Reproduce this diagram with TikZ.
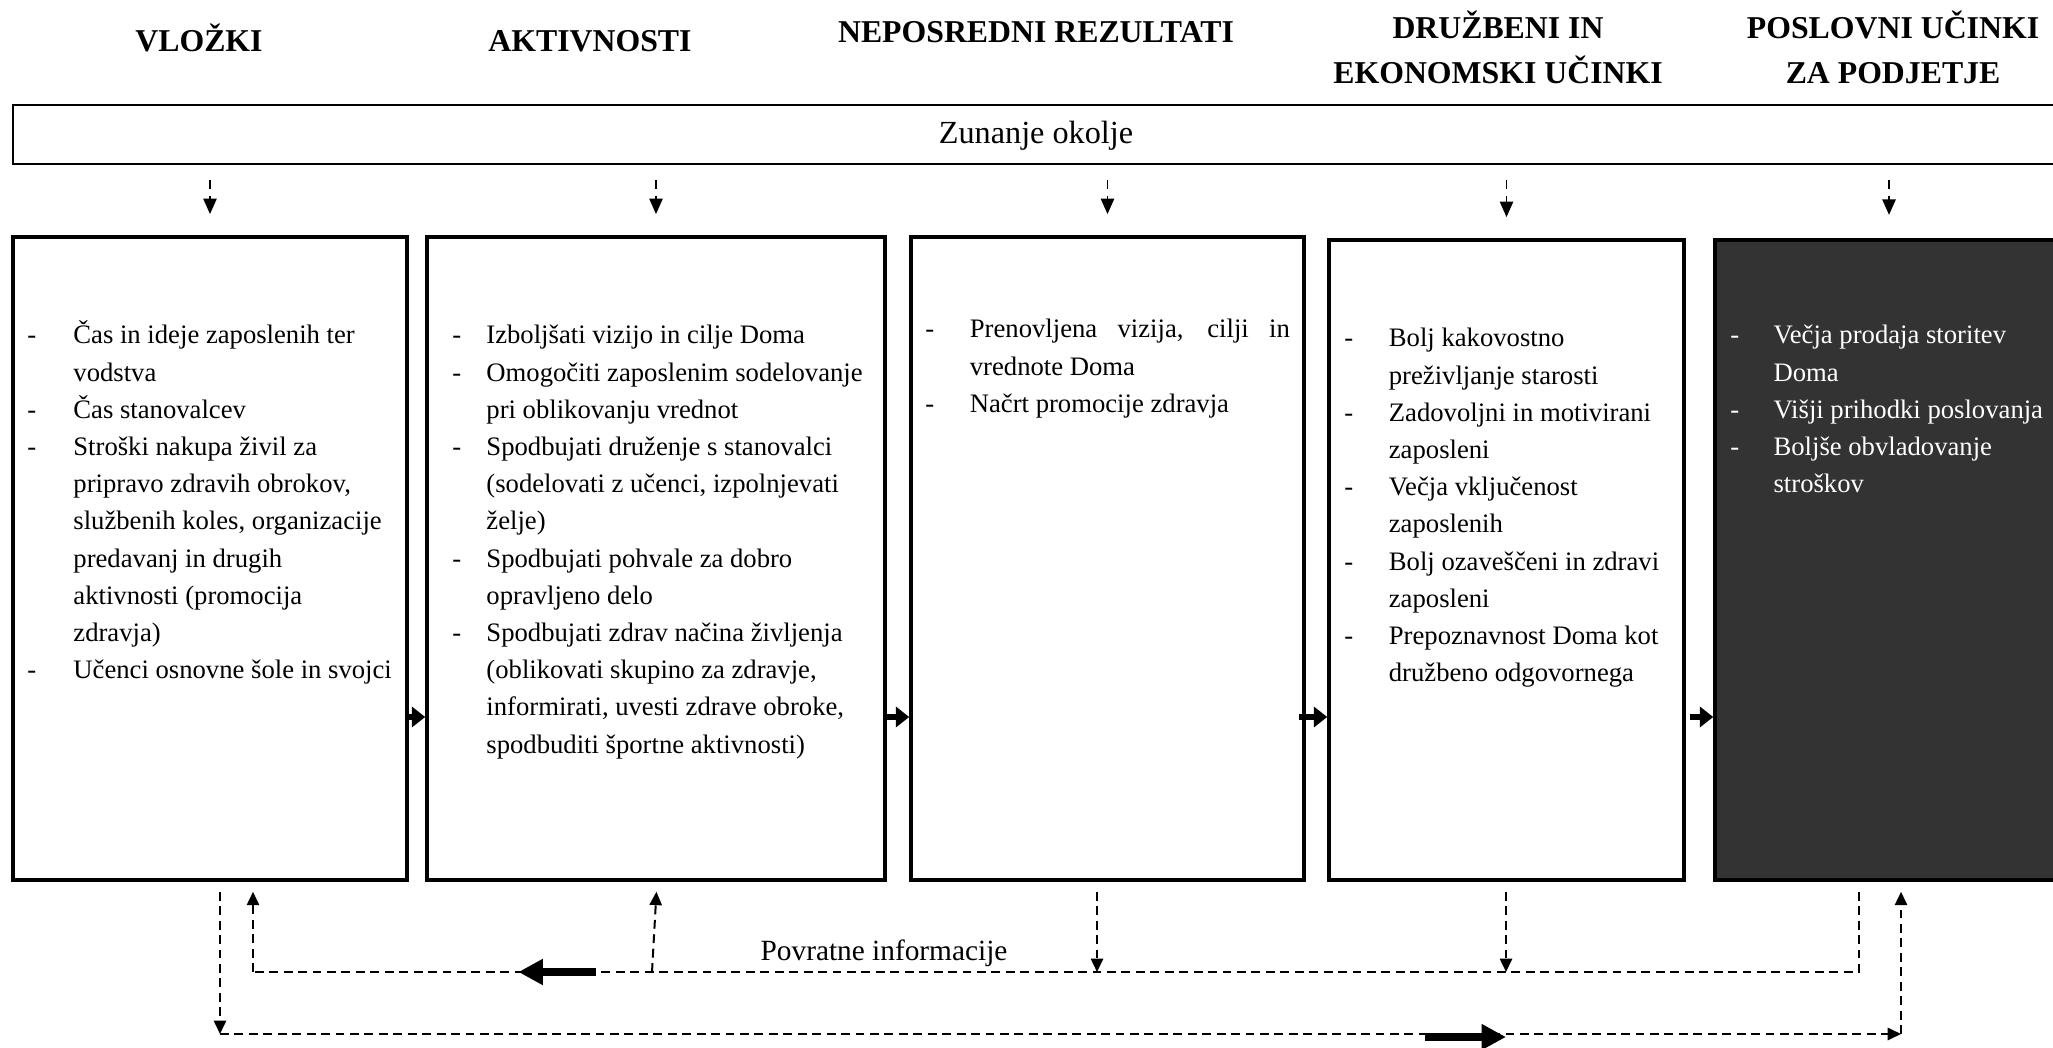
\documentclass[tikz,border=0pt]{standalone}
\usepackage{fontspec}
\setmainfont{Liberation Serif}
\usetikzlibrary{arrows.meta,fit,calc}
\definecolor{darkbox}{RGB}{51,51,51}
\begin{document}
\begin{tikzpicture}[x=0.45pt,y=-0.45pt,
  hdr/.style={font=\fontsize{14.3}{20.3}\selectfont\bfseries, align=center, inner sep=0, anchor=base},
  zbox/.style={draw, line width=0.9pt, inner sep=0},
  box/.style={draw, line width=1.6pt, inner sep=0},
  darkfill/.style={box, fill=darkbox},
  txt/.style={anchor=base west, inner sep=0, font=\fontsize{12}{16.74}\selectfont},
  lbl/.style={anchor=base, inner sep=0, font=\fontsize{13.2}{16.74}\selectfont},
  toparr/.style={line width=0.8pt, dash pattern=on 4pt off 3pt, -{Triangle[length=7pt,width=6pt]}},
  fb/.style={line width=0.9pt, dash pattern=on 4pt off 2.5pt},
  fbarr/.style={fb, -{Triangle[length=6pt,width=5.5pt]}},
  thickarr/.style={line width=3pt, -{Triangle[length=6pt,width=9pt]}},
  bigarr/.style={line width=4pt, -{Triangle[length=11pt,width=11pt]}}
]
\useasboundingbox (0,0) rectangle (2053,1048);

% headers
\node[hdr] (h1) at (199,52) {VLOŽKI};
\node[hdr] (h2) at (590,52) {AKTIVNOSTI};
\node[hdr] (h3) at (1036,43) {NEPOSREDNI REZULTATI};
\node[hdr] (h4) at (1498,84) {DRUŽBENI IN\\EKONOMSKI UČINKI};
\node[hdr] (h5) at (1893,84) {POSLOVNI UČINKI\\ZA PODJETJE};

% external environment
\node[zbox, fit={(13,105) (2075,164)}] (zo) {};
\node[lbl, font=\fontsize{14.5}{17}\selectfont] (zt) at (1036,144) {Zunanje okolje};

% boxes
\node[box, fit={(13,237) (407,880)}] (b1) {};
\node[box, fit={(427,237) (885,880)}] (b2) {};
\node[box, fit={(911,237) (1304,880)}] (b3) {};
\node[box, fit={(1329,240) (1684,880)}] (b4) {};
\node[darkfill, fit={(1715,240) (2075,880)}] (b5) {};

% box texts
\node[txt] (t1) at (27,344) {\begin{tabular}[t]{@{}p{20.7pt}@{}l@{}}
-&Čas in ideje zaposlenih ter\\
&vodstva\\
-&Čas stanovalcev\\
-&Stroški nakupa živil za\\
&pripravo zdravih obrokov,\\
&službenih koles, organizacije\\
&predavanj in drugih\\
&aktivnosti (promocija\\
&zdravja)\\
-&Učenci osnovne šole in svojci
\end{tabular}};

\node[txt] (t2) at (452,344) {\begin{tabular}[t]{@{}p{15.3pt}@{}l@{}}
-&Izboljšati vizijo in cilje Doma\\
-&Omogočiti zaposlenim sodelovanje\\
&pri oblikovanju vrednot\\
-&Spodbujati druženje s stanovalci\\
&(sodelovati z učenci, izpolnjevati\\
&želje)\\
-&Spodbujati pohvale za dobro\\
&opravljeno delo\\
-&Spodbujati zdrav načina življenja\\
&(oblikovati skupino za zdravje,\\
&informirati, uvesti zdrave obroke,\\
&spodbuditi športne aktivnosti)
\end{tabular}};

\node[txt] (t3) at (925,338) {\begin{tabular}[t]{@{}p{20pt}@{}l@{}}
-&\makebox[144pt][s]{Prenovljena vizija, cilji in}\\
&vrednote Doma\\
-&Načrt promocije zdravja
\end{tabular}};

\node[txt] (t4) at (1344,347) {\begin{tabular}[t]{@{}p{20pt}@{}l@{}}
-&Bolj kakovostno\\
&preživljanje starosti\\
-&Zadovoljni in motivirani\\
&zaposleni\\
-&Večja vključenost\\
&zaposlenih\\
-&Bolj ozaveščeni in zdravi\\
&zaposleni\\
-&Prepoznavnost Doma kot\\
&družbeno odgovornega
\end{tabular}};

\node[txt, text=white] (t5) at (1730,344) {\begin{tabular}[t]{@{}p{19.4pt}@{}l@{}}
-&Večja prodaja storitev\\
&Doma\\
-&Višji prihodki poslovanja\\
-&Boljše obvladovanje\\
&stroškov
\end{tabular}};

% arrows from external environment
\foreach \b in {b1,b2,b3,b4} {
  \draw[toparr, shorten <=6.8pt, shorten >=9.5pt] (zo.south -| \b.north) -- (\b.north);
}
\coordinate (z5) at (1889,237);
\draw[toparr, shorten <=6.8pt, shorten >=10.5pt] (zo.south -| z5) -- (b5.north -| z5);

% thick arrows between boxes
\draw[thickarr] (b1.east |- 0,717) -- (b2.west |- 0,717);
\draw[thickarr] (b2.east |- 0,717) -- (b3.west |- 0,717);
\draw[thickarr] ([xshift=-3pt]b3.east |- 0,717) -- (b4.west |- 0,717);
\draw[thickarr] ([xshift=2pt]b4.east |- 0,717) -- (b5.west |- 0,717);

% feedback loop
\coordinate (f1) at (253,972);
\coordinate (f2) at (652,972);
\coordinate (f3) at (1097,972);
\coordinate (f4) at (1506,972);
\coordinate (f5) at (1859,972);
\draw[fb, shorten <=4.5pt] (b5.south -| f5) -- (f5) -- (f1);
\draw[fbarr, shorten >=4.5pt] (f1) -- (b1.south -| f1);
\draw[fbarr, shorten >=4.5pt] (f2) -- ($(b2.south -| f2)+(5,0)$);
\draw[fbarr, shorten <=4.5pt] (b3.south -| f3) -- (f3);
\draw[fbarr, shorten <=4.5pt] (b4.south -| f4) -- (f4);
\draw[bigarr] ($(f1)!0.86!(f2)$) -- ($(f1)!0.665!(f2)$);
\node[lbl] (pi) at (884,960) {Povratne informacije};

% lower loop
\coordinate (c1) at (220,1034);
\coordinate (c2) at (1901,1034);
\draw[fbarr, shorten <=4.5pt] (b1.south -| c1) -- (c1);
\draw[fbarr] (c1) -- (c2);
\draw[fbarr, shorten >=4.5pt] (c2) -- (b5.south -| c2);
\draw[bigarr] ($(c1)!0.717!(c2)+(0,3)$) -- ($(c1)!0.765!(c2)+(0,3)$);
\end{tikzpicture}
\end{document}
